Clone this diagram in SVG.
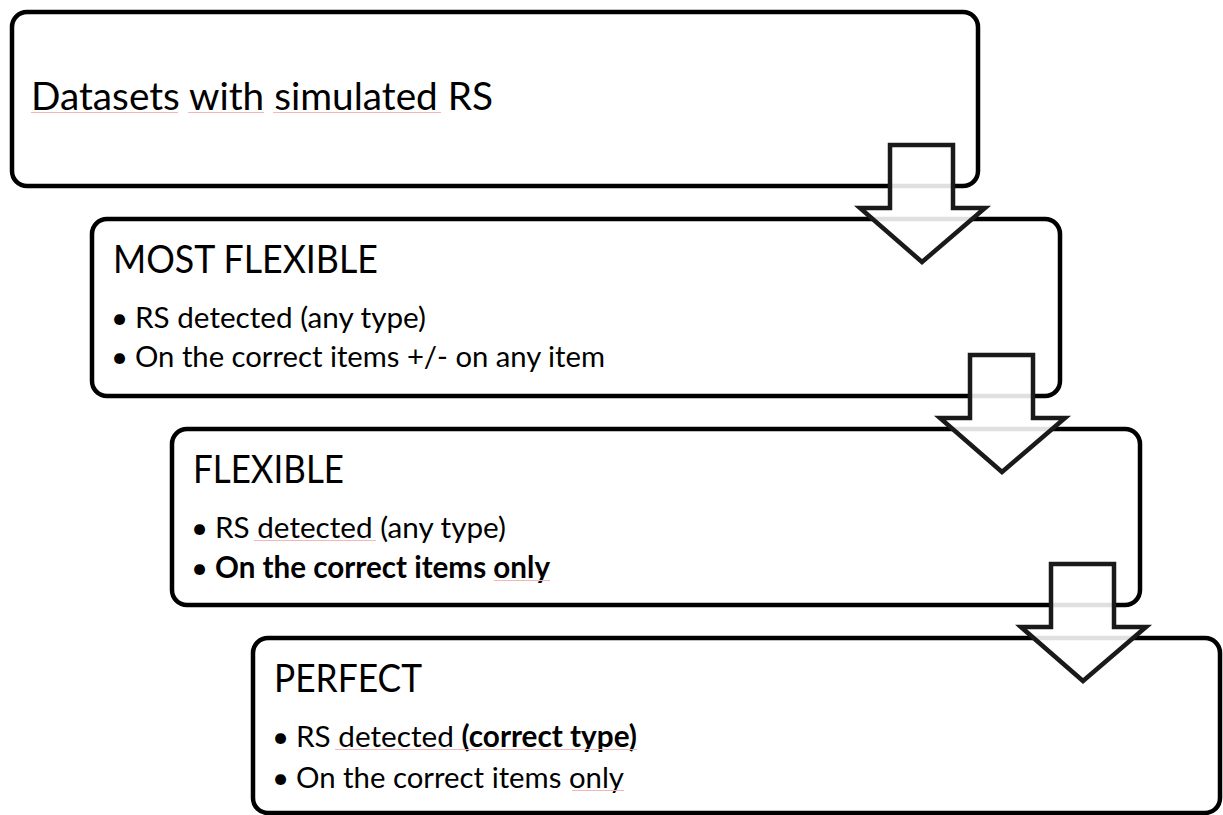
<svg xmlns="http://www.w3.org/2000/svg" width="1223" height="815" viewBox="0 0 1223 815">
<style>
.box{fill:none;stroke:#000;stroke-width:4.5}
.arrow{fill:#fff;fill-opacity:0.88;stroke:#1a1a1a;stroke-width:4.5;stroke-linejoin:miter}
.t{font-family:Lato,"Open Sans","Liberation Sans",sans-serif;fill:#000}
.h{font-size:38.5px}
.b{font-size:29.5px}
.bd{font-weight:bold}
.sp{stroke:#f2b8b8;stroke-width:1.2;fill:none}
</style>
<rect width="1223" height="815" fill="#fff"/>
<g id="node-datasets">
<rect class="box" x="12" y="12" width="966" height="174" rx="15"/>
<text class="t h" x="31" y="110" textLength="462" lengthAdjust="spacingAndGlyphs">Datasets with simulated RS</text>
<path class="sp" d="M31 112.5H178M188 112.5H264M273 112.5H441"/>
</g>
<g id="node-most-flexible">
<rect class="box" x="92" y="219" width="968" height="177" rx="15"/>
<text class="t h" x="113" y="273" textLength="265" lengthAdjust="spacingAndGlyphs">MOST FLEXIBLE</text>
<text class="t b" x="111" y="328">•</text>
<text class="t b" x="135" y="328" textLength="291" lengthAdjust="spacingAndGlyphs">RS detected (any type)</text>
<text class="t b" x="111" y="367">•</text>
<text class="t b" x="135" y="367" textLength="470" lengthAdjust="spacingAndGlyphs">On the correct items +/- on any item</text>
</g>
<g id="node-flexible">
<rect class="box" x="172" y="429" width="968" height="176" rx="15"/>
<text class="t h" x="193" y="483" textLength="151" lengthAdjust="spacingAndGlyphs">FLEXIBLE</text>
<text class="t b" x="191" y="538">•</text>
<text class="t b" x="215" y="538" textLength="291" lengthAdjust="spacingAndGlyphs">RS detected (any type)</text>
<text class="t b" x="191" y="578">•</text>
<text class="t b bd" x="215" y="578" textLength="335" lengthAdjust="spacingAndGlyphs">On the correct items only</text>
<path class="sp" d="M254 540.5H376M494 580.5H550"/>
</g>
<g id="node-perfect">
<rect class="box" x="253" y="638" width="967" height="175" rx="15"/>
<text class="t h" x="274" y="692" textLength="148" lengthAdjust="spacingAndGlyphs">PERFECT</text>
<text class="t b" x="272" y="747">•</text>
<text class="t b" x="296" y="747" textLength="341" lengthAdjust="spacingAndGlyphs">RS detected <tspan class="bd">(correct type)</tspan></text>
<text class="t b" x="272" y="788">•</text>
<text class="t b" x="296" y="788" textLength="328" lengthAdjust="spacingAndGlyphs">On the correct items only</text>
<path class="sp" d="M335 749.5H637M572 790.5H624"/>
</g>
<g id="connectors">
<polygon class="arrow" points="890,145 953,145 953,208 985,208 922,262 860,208 890,208"/>
<polygon class="arrow" points="970,355 1033,355 1033,418 1065,418 1002,472 940,418 970,418"/>
<polygon class="arrow" points="1051,564 1114,564 1114,627 1146,627 1083,681 1021,627 1051,627"/>
</g>
</svg>
